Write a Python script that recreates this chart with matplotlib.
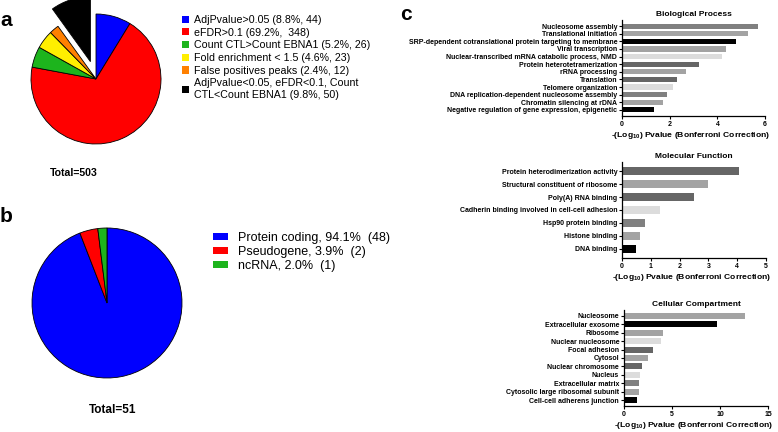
"""
Peak filtering pies (a, b) and GO enrichment bar charts (c).
Writes out.png.
"""
import matplotlib
matplotlib.use("Agg")
import matplotlib.pyplot as plt

plt.rcParams["font.family"] = ["Liberation Sans", "DejaVu Sans"]
plt.rcParams["mathtext.fontset"] = "custom"
plt.rcParams["mathtext.rm"] = "Liberation Sans:bold"
plt.rcParams["mathtext.default"] = "rm"

# ---- data ----
pie_a_labels = [
    "AdjPvalue>0.05 (8.8%, 44)",
    "eFDR>0.1 (69.2%,  348)",
    "Count CTL>Count EBNA1 (5.2%, 26)",
    "Fold enrichment < 1.5 (4.6%, 23)",
    "False positives peaks (2.4%, 12)",
    "AdjPvalue<0.05, eFDR<0.1, Count\nCTL<Count EBNA1 (9.8%, 50)",
]
pie_a_counts = [44, 348, 26, 23, 12, 50]
pie_a_total = "Total=503"

pie_b_labels = ["Protein coding, 94.1%  (48)", "Pseudogene, 3.9%  (2)", "ncRNA, 2.0%  (1)"]
pie_b_counts = [48, 2, 1]
pie_b_total = "Total=51"

bp_terms = [
    "Nucleosome assembly",
    "Translational initiation",
    "SRP-dependent cotranslational protein targeting to membrane",
    "Viral transcription",
    "Nuclear-transcribed mRNA catabolic process, NMD",
    "Protein heterotetramerization",
    "rRNA processing",
    "Translation",
    "Telomere organization",
    "DNA replication-dependent nucleosome assembly",
    "Chromatin silencing at rDNA",
    "Negative regulation of gene expression, epigenetic",
]
bp_values = [5.69, 5.27, 4.8, 4.36, 4.2, 3.24, 2.7, 2.31, 2.14, 1.9, 1.72, 1.34]

mf_terms = [
    "Protein heterodimerization activity",
    "Structural constituent of ribosome",
    "Poly(A) RNA binding",
    "Cadherin binding involved in cell-cell adhesion",
    "Hsp90 protein binding",
    "Histone binding",
    "DNA binding",
]
mf_values = [4.07, 2.99, 2.49, 1.31, 0.8, 0.61, 0.5]

cc_terms = [
    "Nucleosome",
    "Extracellular exosome",
    "Ribosome",
    "Nuclear nucleosome",
    "Focal adhesion",
    "Cytosol",
    "Nuclear chromosome",
    "Nucleus",
    "Extracellular matrix",
    "Cytosolic large ribosomal subunit",
    "Cell-cell adherens junction",
]
cc_values = [12.65, 9.68, 4.04, 3.83, 3.0, 2.5, 1.88, 1.67, 1.6, 1.53, 1.39]

# ---- styles ----
PIE_A_COLORS = ["#0000ff", "#ff0000", "#1db41d", "#ffee00", "#ff8000", "#000000"]
PIE_B_COLORS = ["#0000ff", "#ff0000", "#1db41d"]
DK, MD, LT, VL, BK = "#666666", "#808080", "#a3a3a3", "#dcdcdc", "#000000"
BP_COLORS = [MD, LT, BK, LT, VL, DK, LT, DK, VL, MD, LT, BK]
MF_COLORS = [DK, LT, DK, VL, MD, LT, BK]
CC_COLORS = [LT, BK, LT, VL, DK, LT, DK, VL, MD, LT, BK]
XLABEL = "-(Log$_{10}$) Pvalue (Bonferroni Correction)"

W, H = 778, 432
fig = plt.figure(figsize=(W / 100, H / 100), dpi=100)


def px_axes(x0, y0, x1, y1):
    return fig.add_axes([x0 / W, 1 - y1 / H, (x1 - x0) / W, (y1 - y0) / H])


def pie_panel(cx, cy, r, counts, colors, explode=None):
    k = 1.4
    ax = px_axes(cx - r * k, cy - r * k, cx + r * k, cy + r * k)
    ax.pie(counts, colors=colors, startangle=90, counterclock=False, explode=explode,
           wedgeprops=dict(edgecolor="black", linewidth=0.6))
    ax.set_xlim(-k, k)
    ax.set_ylim(-k, k)
    return ax


# panel a
ax_a = pie_panel(96, 79, 65, pie_a_counts, PIE_A_COLORS, explode=[0, 0, 0, 0, 0, 0.28])
handles = [plt.Rectangle((0, 0), 1, 1, fc=c, ec="none") for c in PIE_A_COLORS]
ax_a.legend(handles, pie_a_labels, loc="upper left", bbox_to_anchor=(182 / W, 1 - 15 / H),
            bbox_transform=fig.transFigure, frameon=False, fontsize=7.7,
            handlelength=0.65, handleheight=0.65, handletextpad=0.5,
            labelspacing=0.25, borderpad=0, borderaxespad=0)
fig.text(74 / W, 1 - 173 / H, pie_a_total, ha="center", va="center", fontsize=7.6, fontweight="bold")

# panel b
ax_b = pie_panel(107, 303, 75, pie_b_counts, PIE_B_COLORS)
handles = [plt.Rectangle((0, 0), 1, 1, fc=c, ec="none") for c in PIE_B_COLORS]
ax_b.legend(handles, pie_b_labels, loc="upper left", bbox_to_anchor=(213 / W, 1 - 232 / H),
            bbox_transform=fig.transFigure, frameon=False, fontsize=9,
            handlelength=1.2, handleheight=0.55, handletextpad=0.8,
            labelspacing=0.15, borderpad=0, borderaxespad=0)
fig.text(113 / W, 1 - 410 / H, pie_b_total, ha="center", va="center", fontsize=8.5, fontweight="bold")


def bar_panel(rect, title, terms, values, colors, xmax, xstep, margin, height):
    ax = px_axes(*rect)
    pos = list(range(len(terms)))
    ax.barh(pos, values, height=height, color=colors)
    ax.set_ylim(len(terms) - 1 + margin, -margin)
    ax.set_yticks(pos)
    ax.set_yticklabels(terms, fontsize=5, fontweight="bold")
    ax.set_xlim(0, xmax)
    ax.set_xticks(range(0, xmax + 1, xstep))
    for lab in ax.get_xticklabels():
        lab.set_fontsize(5)
        lab.set_fontweight("bold")
    for side in ("top", "right"):
        ax.spines[side].set_visible(False)
    for side in ("left", "bottom"):
        ax.spines[side].set_linewidth(0.9)
    ax.tick_params(length=2.5, width=0.8, pad=1)
    ax.set_title(title, fontsize=6, fontweight="bold", pad=3)
    ax.set_xlabel(XLABEL, fontsize=6.1, fontweight="bold")
    ax.xaxis.set_label_coords(0.48, -0.145)
    return ax


bar_panel((622, 20, 765, 116), "Biological Process", bp_terms, bp_values, BP_COLORS, 6, 2, 0.8, 0.68)
bar_panel((622, 162, 766, 258), "Molecular Function", mf_terms, mf_values, MF_COLORS, 5, 1, 0.7, 0.62)
bar_panel((624, 310, 768, 406), "Cellular Compartment", cc_terms, cc_values, CC_COLORS, 15, 5, 0.7, 0.7)

# panel letters
for letter, x, y in (("a", 6, 21), ("b", 6, 217), ("c", 406, 15)):
    fig.text(x / W, 1 - y / H, letter, ha="center", va="center", fontsize=15, fontweight="bold")

fig.savefig("out.png", dpi=100)
